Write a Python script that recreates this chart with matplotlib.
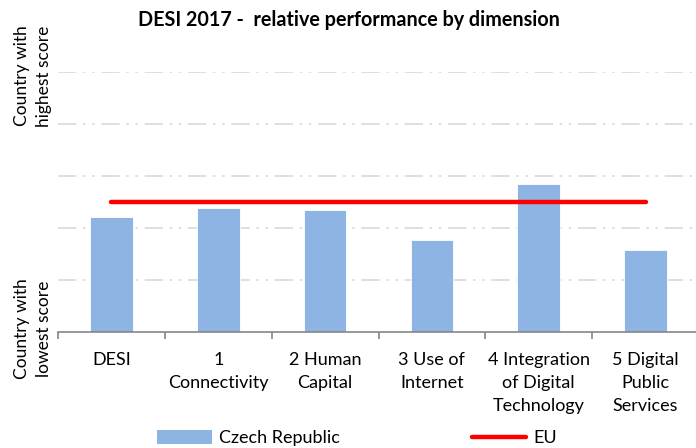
import matplotlib
matplotlib.use("Agg")
import matplotlib.pyplot as plt
from matplotlib.lines import Line2D
from matplotlib.patches import Patch

plt.rcParams['font.family'] = ['Lato', 'DejaVu Sans']

categories = ["DESI", "1\nConnectivity", "2 Human\nCapital", "3 Use of\nInternet",
              "4 Integration\nof Digital\nTechnology", "5 Digital\nPublic\nServices"]
czech = [0.442, 0.477, 0.470, 0.354, 0.569, 0.318]
eu = [0.5] * len(categories)
grid_levels = [0.2, 0.4, 0.6, 0.8, 1.0]

W, H = 696, 448
fig = plt.figure(figsize=(W / 100, H / 100), dpi=100)
ax = fig.add_axes([58 / W, (H - 332.3) / H, (699 - 58) / W, (332.3 - 72) / H])

x = list(range(len(categories)))
ax.bar(x, czech, width=0.4, color="#8EB4E3", edgecolor="white", linewidth=0.6, zorder=2)
ax.plot(x, eu, color="#FF0000", linewidth=3.2, solid_capstyle="round", zorder=3)

for g in grid_levels:
    ax.axhline(g, color="#D9D9D9", linewidth=1.2, dashes=(11, 4, 1.5, 4, 1.5, 4), zorder=1)

ax.set_xlim(-0.5, len(categories) - 0.5)
ax.set_ylim(0, 1.0)
for s in ["top", "right", "left"]:
    ax.spines[s].set_visible(False)
ax.spines["bottom"].set_color("#868686")
ax.spines["bottom"].set_linewidth(1.2)
ax.set_yticks([])
ax.set_xticks(x)
ax.set_xticklabels(categories, fontsize=13, linespacing=1.55)
ax.tick_params(axis="x", which="major", length=0, pad=14)
ax.set_xticks([i - 0.5 for i in range(len(categories) + 1)], minor=True)
ax.tick_params(axis="x", which="minor", length=5, width=1.2, color="#868686", direction="out")

fig.text(349 / W, 1 - 20 / H, "DESI 2017 -  relative performance by dimension",
         ha="center", va="center", fontsize=14.2, fontweight="bold")
fig.text(33 / W, 1 - 76 / H, "Country with\nhighest score", rotation=90,
         ha="center", va="center", fontsize=12.5, linespacing=1.4)
fig.text(33 / W, 1 - 329 / H, "Country with\nlowest score", rotation=90,
         ha="center", va="center", fontsize=12.5, linespacing=1.4)

handles = [Patch(facecolor="#8EB4E3", edgecolor="none"),
           Line2D([0], [0], color="#FF0000", linewidth=3.2, solid_capstyle="round")]
fig.legend(handles, ["Czech Republic", "EU"], loc="center", bbox_to_anchor=(357 / W, 1 - 438 / H),
           ncol=2, frameon=False, fontsize=13, handlelength=3.0, handleheight=0.8,
           columnspacing=7.3, handletextpad=0.4)

fig.savefig("out.png", dpi=100)
